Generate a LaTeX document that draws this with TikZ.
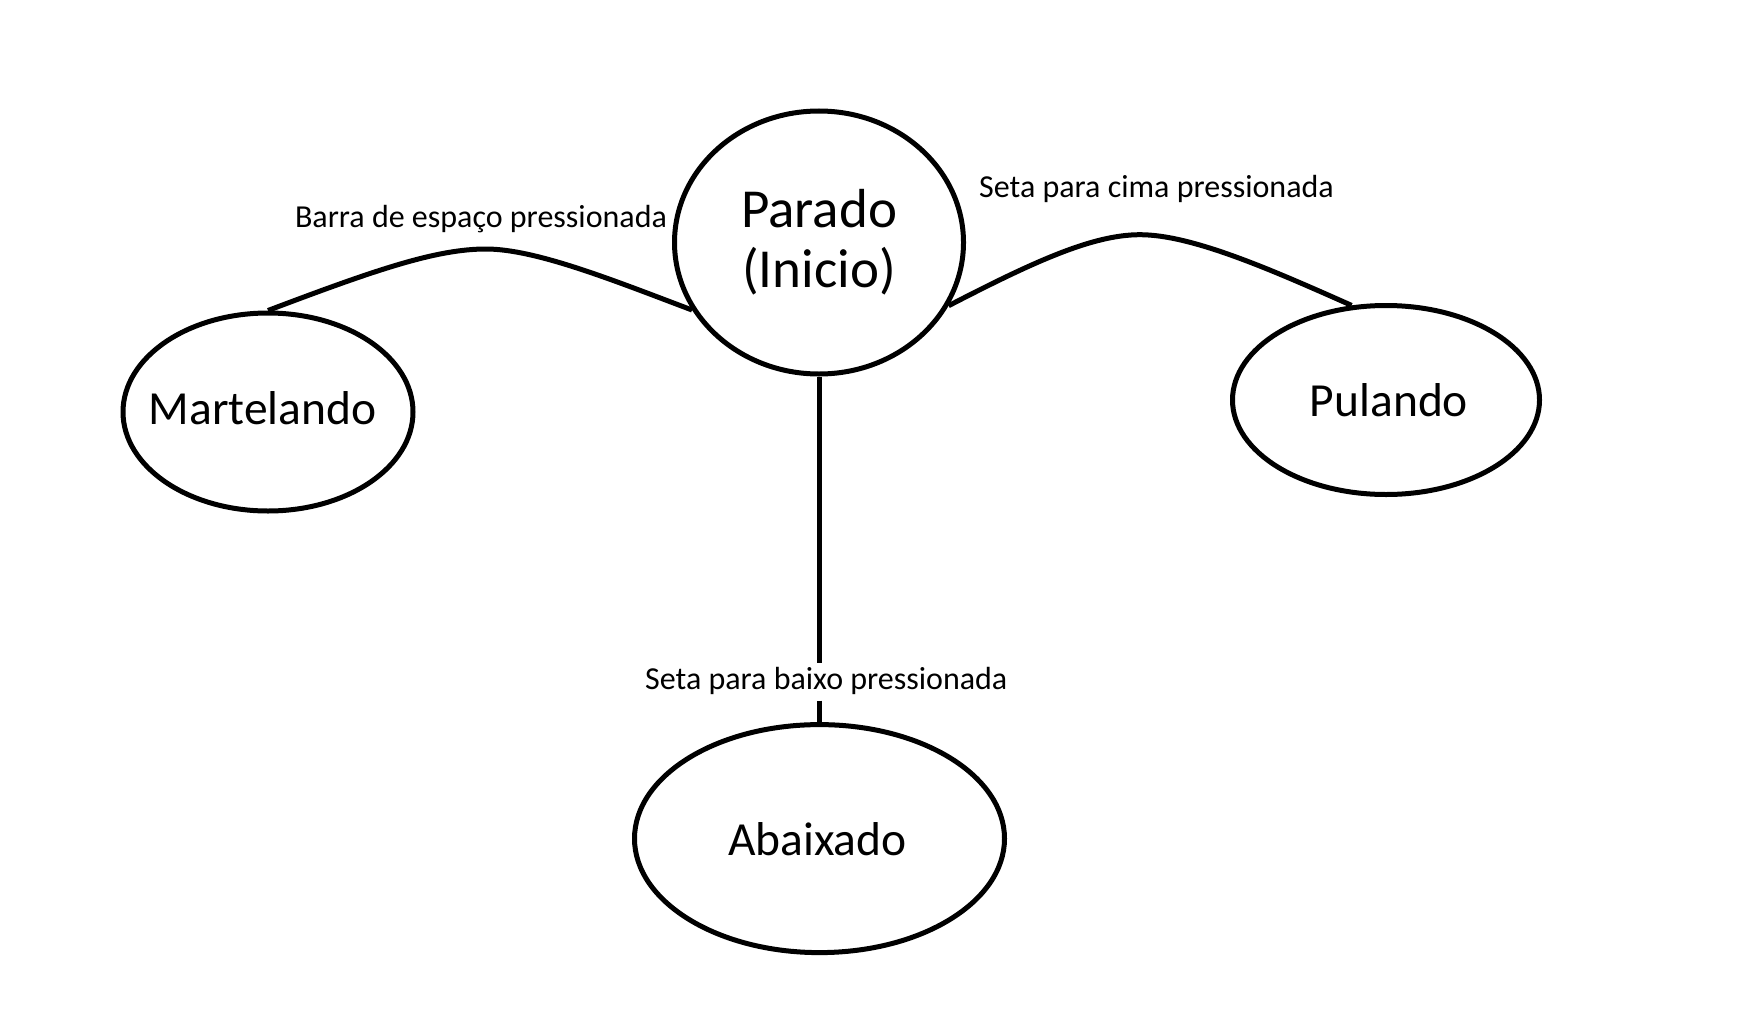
\documentclass[tikz,border=0pt]{standalone}
\usepackage{fontspec}
\setmainfont{Carlito}
\usetikzlibrary{shapes.geometric}
\begin{document}
\begin{tikzpicture}[x=1pt,y=-1pt,
  state/.style={ellipse,draw,line width=5pt,inner sep=0pt},
  big/.style={font=\fontsize{47.5}{60}\selectfont,inner sep=0pt},
  huge/.style={font=\fontsize{55}{60.5}\selectfont,align=center,inner sep=0pt},
  lbl/.style={font=\fontsize{32}{36}\selectfont,inner sep=2pt},
  conn/.style={line width=5pt}]
\useasboundingbox (0,0) rectangle (1752,1030);
\node[state,minimum width=289pt,minimum height=263pt] (pd) at (819,242.5) {};
\node[state,minimum width=290pt,minimum height=198pt] (mt) at (268,412) {};
\node[state,minimum width=307pt,minimum height=189pt] (pl) at (1386,400) {};
\node[state,minimum width=370pt,minimum height=228pt] (ab) at (819.5,838.6) {};
\node[huge] (tpd) at (819,242.3) {Parado\\(Inicio)};
\node[big] (tmt) at (262.6,408) {Martelando};
\node[big] (tpl) at (1389,400) {Pulando};
\node[big] (tab) at (817.4,839.2) {Abaixado};
\node[lbl] (l1) at (481,219) {Barra de espaço pressionada};
\node[lbl] (l2) at (1156.5,189) {Seta para cima pressionada};
\node[lbl] (l3) at (826.3,681) {Seta para baixo pressionada};
\coordinate (p1) at (486,249);
\coordinate (p2) at (1140,234.7);
\coordinate (g1) at (819,662.6);
\coordinate (g2) at (819,700.6);
\draw[conn] (mt.north) .. controls (375,270) and (436,249) .. (p1)
  .. controls (536,249) and (615,281) .. (pd.208);
\draw[conn] (pd.-26) .. controls (1035,261) and (1093,234.7) .. (p2)
  .. controls (1192,234.7) and (1272,270) .. (pl.110);
\draw[conn] (pd.south) -- (pd.south |- g1);
\draw[conn] (pd.south |- g2) -- (pd.south |- ab.north);
\end{tikzpicture}
\end{document}
